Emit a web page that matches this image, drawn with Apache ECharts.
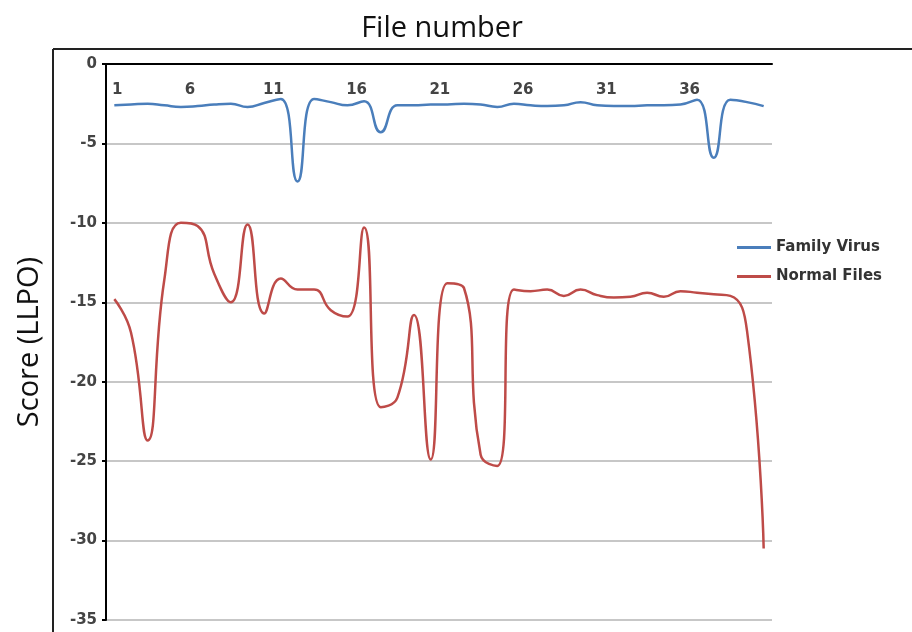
<!DOCTYPE html>
<html>
<head>
<meta charset="utf-8">
<script src="https://cdn.jsdelivr.net/npm/echarts@6/dist/echarts.min.js"></script>
<style>
  html, body { margin: 0; padding: 0; background: #fff; }
  #chart { width: 912px; height: 632px; }
</style>
</head>
<body>
<div id="chart"></div>
<script>
// file numbers 1..40
const files = ['1','2','3','4','5','6','7','8','9','10','11','12','13','14','15','16','17','18','19','20',
  '21','22','23','24','25','26','27','28','29','30','31','32','33','34','35','36','37','38','39','40'];

const familyVirus = [-2.6, -2.55, -2.5, -2.6, -2.7, -2.65, -2.55, -2.5, -2.7, -2.45,
  -2.2, -7.4, -2.2, -2.4, -2.6, -2.35, -4.3, -2.6, -2.6, -2.55,
  -2.55, -2.5, -2.55, -2.7, -2.5, -2.6, -2.65, -2.6, -2.4, -2.6,
  -2.65, -2.65, -2.6, -2.6, -2.55, -2.25, -5.9, -2.25, -2.4, -2.65];

const normalFiles = [-14.8, -16.9, -23.7, -13.6, -10.0, -10.2, -13.2, -15.0, -10.1, -15.7,
  -13.5, -14.2, -14.2, -15.5, -15.9, -10.3, -21.6, -21.0, -15.8, -24.9,
  -13.8, -14.1, -24.6, -25.3, -14.2, -14.3, -14.2, -14.6, -14.2, -14.55,
  -14.7, -14.65, -14.4, -14.65, -14.3, -14.4, -14.5, -14.6, -16.8, -30.5];

const chart = echarts.init(document.getElementById('chart'));

const labelColor = '#444';
const gridColor = '#b4b4b4';

const option = {
  backgroundColor: '#ffffff',
  animation: false,
  title: {
    text: 'File number',
    left: 437,
    top: 9,
    textAlign: 'center',
    textStyle: {
      fontFamily: 'Open Sans',
      fontSize: 29,
      fontWeight: 'normal',
      color: '#111',
    },
  },
  legend: {
    orient: 'vertical',
    left: 732,
    top: 235,
    itemWidth: 34,
    itemHeight: 3,
    itemGap: 14,
    icon: 'rect',
    textStyle: {
      fontFamily: 'DejaVu Sans',
      fontSize: 15,
      fontWeight: 'bold',
      color: '#333',
    },
    data: ['Family Virus', 'Normal Files'],
  },
  grid: {
    left: 106,
    top: 64,
    right: 140,
    bottom: 12,
  },
  xAxis: {
    type: 'category',
    position: 'top',
    data: files,
    boundaryGap: true,
    axisLine: { lineStyle: { color: '#000', width: 2 } },
    axisTick: { inside: true, length: 5, interval: 4, lineStyle: { color: '#000', width: 2 } },
    axisLabel: {
      inside: true,
      interval: 4,
      margin: 19,
      formatter: v => (v === '1' ? '{a|' + v + '}' : '{b|' + v + '}'),
      rich: {
        a: { fontFamily: 'DejaVu Sans', fontSize: 15, fontWeight: 'bold', color: labelColor, padding: [0, 0, 0, 6] },
        b: { fontFamily: 'DejaVu Sans', fontSize: 15, fontWeight: 'bold', color: labelColor, padding: [0, 15, 0, 0] },
      },
    },
    splitLine: { show: false },
  },
  yAxis: {
    type: 'value',
    min: -35,
    max: 0,
    interval: 5,
    name: 'Score (LLPO)',
    nameLocation: 'middle',
    nameGap: 62,
    nameRotate: 90,
    nameTextStyle: {
      fontFamily: 'Open Sans',
      fontSize: 29,
      color: '#111',
    },
    axisLine: { show: true, lineStyle: { color: '#000', width: 2 } },
    axisTick: { show: true, length: 4, lineStyle: { color: '#000', width: 2 } },
    axisLabel: {
      margin: 9,
      fontFamily: 'DejaVu Sans',
      fontSize: 15,
      fontWeight: 'bold',
      color: labelColor,
    },
    splitLine: { show: true, lineStyle: { color: gridColor, width: 1.5 } },
  },
  graphic: [
    {
      type: 'line',
      shape: { x1: 53, y1: 49, x2: 53, y2: 632 },
      style: { stroke: '#222', lineWidth: 2 },
    },
    {
      type: 'line',
      shape: { x1: 53, y1: 49, x2: 912, y2: 49 },
      style: { stroke: '#222', lineWidth: 2 },
    },
  ],
  series: [
    {
      name: 'Family Virus',
      type: 'line',
      data: familyVirus,
      smooth: 0.5,
      symbol: 'none',
      lineStyle: { color: '#4a7ebb', width: 2.5 },
      itemStyle: { color: '#4a7ebb' },
    },
    {
      name: 'Normal Files',
      type: 'line',
      data: normalFiles,
      smooth: 0.5,
      symbol: 'none',
      lineStyle: { color: '#be4b48', width: 2.5 },
      itemStyle: { color: '#be4b48' },
    },
  ],
};

chart.setOption(option);
</script>
</body>
</html>
